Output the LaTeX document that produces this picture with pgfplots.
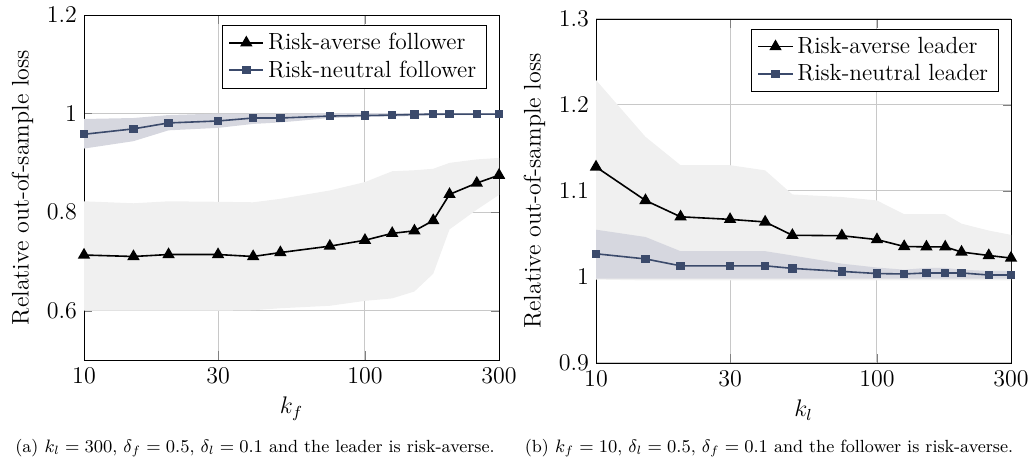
\documentclass[border=0pt]{standalone}
\usepackage{pgfplots}
\pgfplotsset{compat=1.18}
\definecolor{bandlight}{HTML}{F0F0F0}
\definecolor{banddark}{HTML}{D6D7DF}
\definecolor{neutral}{HTML}{3B4A6B}
\definecolor{gridgray}{HTML}{C8C8C8}
\tikzset{
  averse/.style={black, line width=0.8pt, mark=triangle*, mark size=2.8pt},
  neutralline/.style={neutral, line width=0.8pt, mark=square*, mark size=1.7pt, mark options={fill=neutral}},
}
\pgfplotsset{
  tick label style={font=\fontsize{12}{14}\selectfont},
  label style={font=\fontsize{12}{14}\selectfont},
}
\begin{document}
\begin{tikzpicture}
\useasboundingbox (0,0) rectangle (514.5pt,232pt);
% (a) follower
\begin{axis}[scale only axis, anchor=south west, at={(42pt,52pt)}, width=207.5pt, height=172.5pt,
  xmode=log, xmin=10, xmax=300,
  xtick={10,30,100,300}, xticklabels={10,30,100,300}, xminorticks=false,
  grid=major, major grid style={gridgray, line width=0.5pt},
  ylabel={Relative out-of-sample loss},
  legend style={at={(0.97,0.972)}, anchor=north east, draw=black, cells={anchor=west}, font=\fontsize{11.7}{14}\selectfont},
  ymin=0.5, ymax=1.2, ytick={0.6,0.8,1,1.2},
  xlabel={$k_f$}]
\addplot[forget plot, fill=bandlight, draw=none] coordinates {
  (10,0.822)(15,0.818)(20,0.822)(30,0.821)(40,0.820)(50,0.827)(75,0.844)(100,0.861)(125,0.883)(150,0.885)(175,0.888)(200,0.900)(250,0.907)(300,0.910)
  (300,0.835)(250,0.805)(200,0.765)(175,0.675)(150,0.639)(125,0.625)(100,0.620)(75,0.610)(50,0.605)(40,0.601)(30,0.600)(20,0.600)(15,0.600)(10,0.600)} -- cycle;
\addplot[forget plot, fill=banddark, draw=none] coordinates {
  (10,0.989)(15,0.991)(20,0.997)(30,1.000)(40,1.000)(50,1.000)(75,1.001)(100,1.001)(125,1.001)(150,1.001)(175,1.001)(200,1.001)(250,1.001)(300,1.001)
  (300,0.998)(250,0.997)(200,0.997)(175,0.996)(150,0.995)(125,0.994)(100,0.993)(75,0.991)(50,0.982)(40,0.979)(30,0.971)(20,0.966)(15,0.944)(10,0.929)} -- cycle;
\addplot[averse] coordinates {
  (10,0.713)(15,0.710)(20,0.714)(30,0.714)(40,0.710)(50,0.718)(75,0.731)(100,0.743)(125,0.757)(150,0.762)(175,0.783)(200,0.836)(250,0.859)(300,0.875)};
\addlegendentry{Risk-averse follower}
\addplot[neutralline] coordinates {
  (10,0.958)(15,0.969)(20,0.981)(30,0.985)(40,0.991)(50,0.991)(75,0.995)(100,0.996)(125,0.997)(150,0.998)(175,0.999)(200,0.999)(250,0.999)(300,0.999)};
\addlegendentry{Risk-neutral follower}
\end{axis}
% (b) leader
\begin{axis}[scale only axis, anchor=south west, at={(298pt,50.5pt)}, width=207.5pt, height=172pt,
  xmode=log, xmin=10, xmax=300,
  xtick={10,30,100,300}, xticklabels={10,30,100,300}, xminorticks=false,
  grid=major, major grid style={gridgray, line width=0.5pt},
  ylabel={Relative out-of-sample loss},
  legend style={at={(0.97,0.972)}, anchor=north east, draw=black, cells={anchor=west}, font=\fontsize{11.7}{14}\selectfont},
  ymin=0.9, ymax=1.3, ytick={0.9,1,1.1,1.2,1.3},
  xlabel={$k_l$}]
\addplot[forget plot, fill=bandlight, draw=none] coordinates {
  (10,1.229)(15,1.163)(20,1.130)(30,1.130)(40,1.124)(50,1.096)(75,1.093)(100,1.089)(125,1.073)(150,1.073)(175,1.073)(200,1.062)(250,1.054)(300,1.049)
  (300,0.996)(250,0.996)(200,0.996)(175,0.996)(150,0.996)(125,0.996)(100,0.996)(75,0.996)(50,0.996)(40,0.996)(30,0.996)(20,0.996)(15,0.996)(10,0.997)} -- cycle;
\addplot[forget plot, fill=banddark, draw=none] coordinates {
  (10,1.055)(15,1.0465)(20,1.030)(30,1.030)(40,1.030)(50,1.025)(75,1.0155)(100,1.011)(125,1.0085)(150,1.0105)(175,1.0105)(200,1.0085)(250,1.007)(300,1.007)
  (300,0.998)(250,0.998)(200,0.998)(175,0.998)(150,0.998)(125,0.998)(100,0.998)(75,0.998)(50,0.998)(40,0.998)(30,0.998)(20,0.998)(15,0.998)(10,0.998)} -- cycle;
\addplot[averse] coordinates {
  (10,1.128)(15,1.089)(20,1.070)(30,1.067)(40,1.064)(50,1.0485)(75,1.048)(100,1.0435)(125,1.0355)(150,1.035)(175,1.035)(200,1.029)(250,1.025)(300,1.022)};
\addlegendentry{Risk-averse leader}
\addplot[neutralline] coordinates {
  (10,1.027)(15,1.021)(20,1.013)(30,1.013)(40,1.013)(50,1.010)(75,1.0065)(100,1.004)(125,1.0035)(150,1.0047)(175,1.0047)(200,1.0047)(250,1.0023)(300,1.0023)};
\addlegendentry{Risk-neutral leader}
\end{axis}
\node at (127.5pt,8pt) {\fontsize{8.8}{10}\selectfont (a) $k_l=300$, $\delta_f=0.5$, $\delta_l=0.1$ and the leader is risk-averse.};
\node at (384.5pt,8pt) {\fontsize{8.8}{10}\selectfont (b) $k_f=10$, $\delta_l=0.5$, $\delta_f=0.1$ and the follower is risk-averse.};
\end{tikzpicture}
\end{document}
